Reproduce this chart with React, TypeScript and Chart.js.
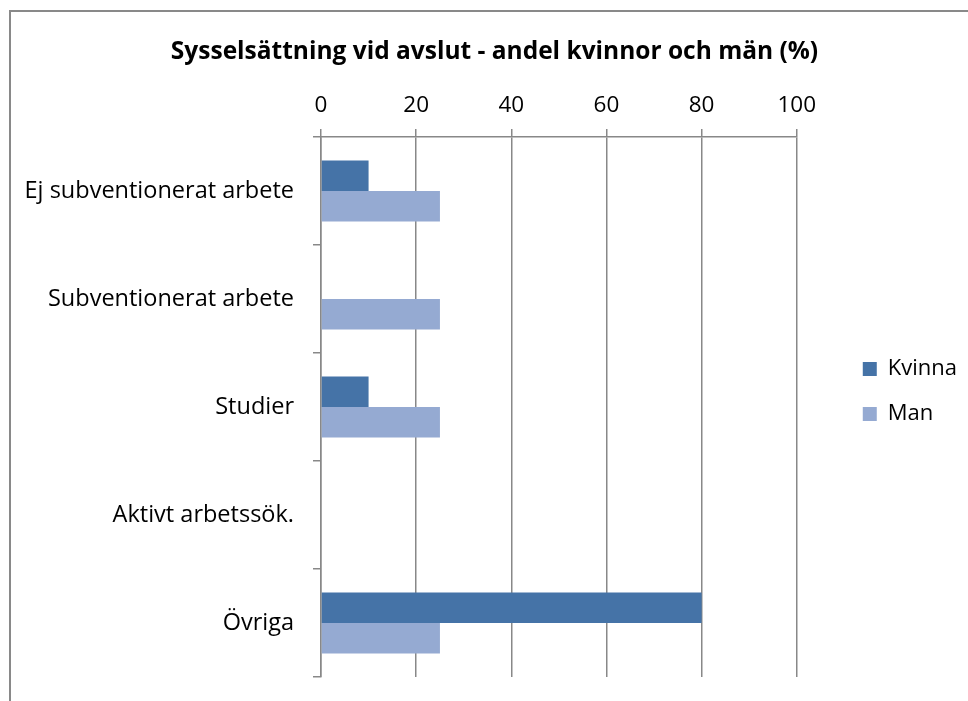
import React, { useEffect, useRef } from "react";
import { Chart, registerables } from "chart.js";

Chart.register(...registerables);

const categories = [
  "Ej subventionerat arbete",
  "Subventionerat arbete",
  "Studier",
  "Aktivt arbetssök.",
  "Övriga",
];
const kvinna = [10, 0, 10, 0, 80];
const man = [25, 25, 25, 0, 25];
const seriesNames = ["Kvinna", "Man"];
const titleText = "Sysselsättning vid avslut - andel kvinnor och män (%)";
const xMin = 0;
const xMax = 100;
const xStep = 20;

const FONT = "'Open Sans'";
const GRID = "#888888";

export default function App() {
  const ref = useRef<HTMLCanvasElement | null>(null);

  useEffect(() => {
    if (!ref.current) return;
    const legendShift = {
      id: "legendShift",
      afterLayout(chart: any) {
        if (chart.legend) {
          chart.legend.top -= 15.5;
          chart.legend.bottom -= 15.5;
        }
      },
    };
    const chart = new Chart(ref.current, {
      type: "bar",
      data: {
        labels: categories,
        datasets: [
          {
            label: seriesNames[0],
            data: kvinna,
            backgroundColor: "#4573a7",
            borderWidth: 0,
            barPercentage: 1,
            categoryPercentage: 0.565,
          },
          {
            label: seriesNames[1],
            data: man,
            backgroundColor: "#95aad2",
            borderWidth: 0,
            barPercentage: 1,
            categoryPercentage: 0.565,
          },
        ],
      },
      options: {
        indexAxis: "y",
        responsive: false,
        animation: false,
        layout: { padding: { left: 22, right: 1, top: 0, bottom: 24 } },
        scales: {
          x: {
            type: "linear",
            position: "top",
            min: xMin,
            max: xMax,
            ticks: {
              stepSize: xStep,
              padding: 10,
              color: "#000",
              font: { family: FONT, size: 22.5 },
            },
            grid: { color: GRID, lineWidth: 1.5, tickLength: 8 },
            border: { color: GRID, width: 1.5 },
            afterFit: (s: any) => {
              s.height = 62.3;
            },
          },
          y: {
            type: "category",
            position: "left",
            offset: true,
            ticks: {
              padding: 19,
              color: "#000",
              font: { family: FONT, size: 23.5 },
            },
            grid: {
              offset: true,
              drawOnChartArea: false,
              color: GRID,
              lineWidth: 1.5,
              tickLength: 8,
            },
            border: { color: GRID, width: 1.5 },
            afterFit: (s: any) => {
              s.width = 299;
              s.paddingTop = 0;
              s.paddingBottom = 0;
            },
          },
          y2: {
            type: "category",
            position: "right",
            display: true,
            grid: { display: false },
            ticks: { display: false },
            border: { display: false },
            afterFit: (s: any) => {
              s.width = 43;
              s.paddingTop = 0;
              s.paddingBottom = 0;
            },
          },
        },
        plugins: {
          title: {
            display: true,
            text: titleText,
            color: "#000",
            font: { family: FONT, size: 24.5, weight: "bold" },
            padding: { top: 37.3, bottom: 8 },
          },
          legend: {
            position: "right",
            fullSize: false,
            labels: {
              boxWidth: 14,
              boxHeight: 14,
              padding: 23,
              color: "#000",
              font: { family: FONT, size: 22 },
            },
          },
          tooltip: { enabled: false },
        },
      },
      plugins: [legendShift],
    });
    return () => chart.destroy();
  }, []);

  return (
    <div
      style={{
        position: "fixed",
        left: 0,
        top: 0,
        width: 968,
        height: 701,
        background: "#fff",
        overflow: "hidden",
      }}
    >
      <div
        style={{
          position: "absolute",
          left: 9,
          top: 10,
          right: -10,
          bottom: -10,
          borderLeft: "2px solid #898989",
          borderTop: "2px solid #898989",
        }}
      />
      <canvas
        ref={ref}
        width={968}
        height={701}
        style={{ position: "absolute", left: 0, top: 0 }}
      />
    </div>
  );
}
